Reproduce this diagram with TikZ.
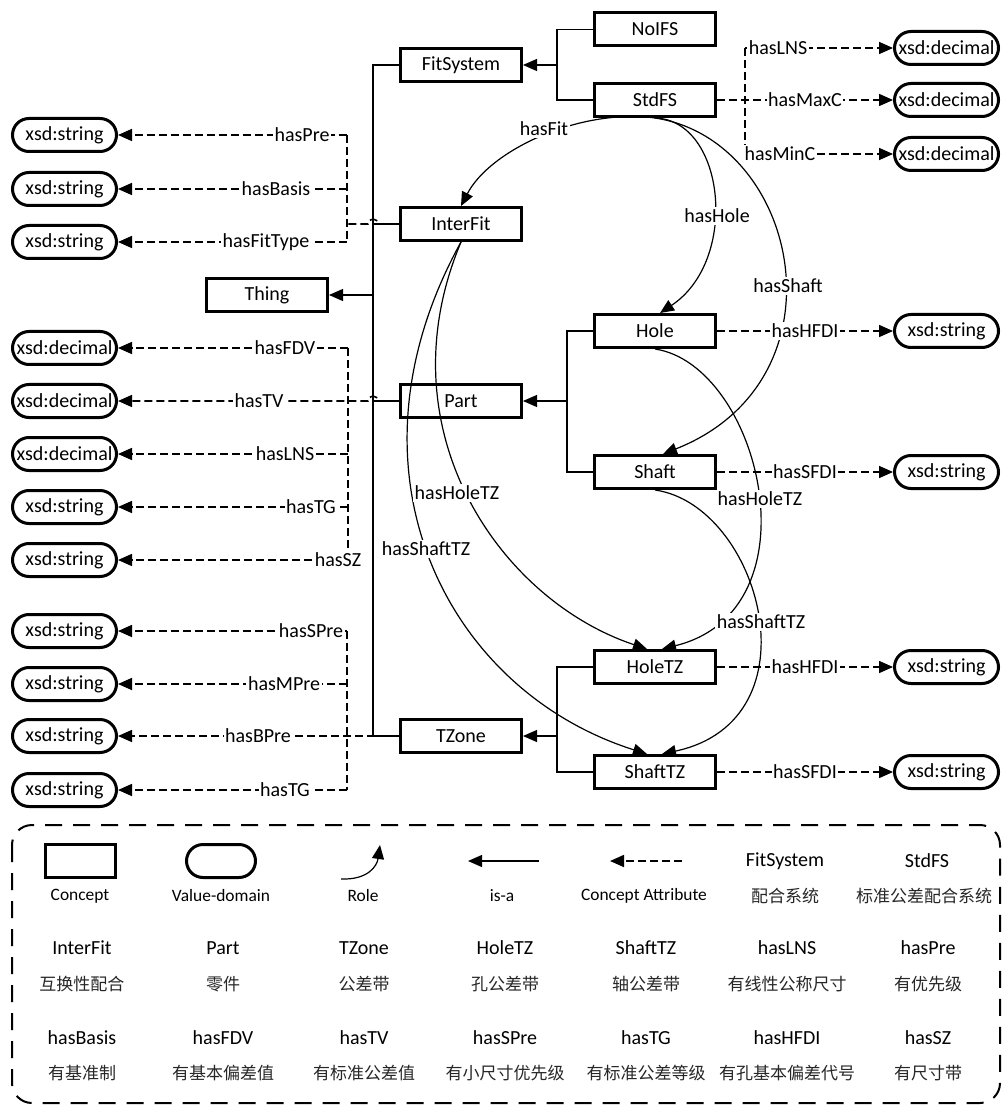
\documentclass[tikz,border=0pt]{standalone}
\usepackage{fontspec}
\setmainfont{Carlito}
\newfontfamily\cjk{Noto Sans CJK SC}
\usetikzlibrary{arrows.meta}

\begin{document}
\begin{tikzpicture}[x=0.5pt,y=-0.5pt,
  txt/.style={font=\fontsize{10}{12}\selectfont},
  small/.style={font=\fontsize{8.7}{10}\selectfont},
  concept/.style={txt,draw,line width=1.5pt,minimum width=60.5pt,minimum height=16.5pt,inner sep=0pt,fill=white},
  value/.style={txt,draw,line width=1.5pt,rounded corners=8.25pt,minimum width=52pt,minimum height=16.5pt,inner sep=0pt,fill=white},
  isa/.style={line width=0.6pt},
  role/.style={line width=0.6pt},
  attr/.style={line width=0.8pt,dash pattern=on 4pt off 2pt},
  tip/.style={-{Triangle[length=7pt,width=6pt]}},
  lab/.style={txt,fill=white,inner sep=0.8pt},
  cn/.style={font=\cjk\fontsize{8.5}{10}\selectfont,text=black!85},
  legframe/.style={line width=1pt,dash pattern=on 8.5pt off 5.5pt,rounded corners=10pt}]
\useasboundingbox (0,0) rectangle (1001,1106);

% ---------------- concepts ----------------
\node[concept] (NoIFS)     at (655,29.5) {NoIFS};
\node[concept] (StdFS)     at (655,100)  {StdFS};
\node[concept] (FitSystem) at (461,65)   {FitSystem};
\node[concept] (InterFit)  at (461,224)  {InterFit};
\node[concept] (Thing)     at (267,295)  {Thing};
\node[concept] (Part)      at (461,401)  {Part};
\node[concept] (Hole)      at (655,331)  {Hole};
\node[concept] (Shaft)     at (655,472)  {Shaft};
\node[concept] (TZone)     at (461,736)  {TZone};
\node[concept] (HoleTZ)    at (655,667)  {HoleTZ};
\node[concept] (ShaftTZ)   at (655,772)  {ShaftTZ};

% ---------------- value domains ----------------
\node[value] (vPre)     at (64.5,135) {xsd:string};
\node[value] (vBasis)   at (64.5,189) {xsd:string};
\node[value] (vFitType) at (64.5,242) {xsd:string};
\node[value] (vFDV)     at (64.5,348) {xsd:decimal};
\node[value] (vTV)      at (64.5,401) {xsd:decimal};
\node[value] (vLNS)     at (64.5,454) {xsd:decimal};
\node[value] (vTGa)     at (64.5,507) {xsd:string};
\node[value] (vSZ)      at (64.5,560) {xsd:string};
\node[value] (vSPre)    at (64.5,631) {xsd:string};
\node[value] (vMPre)    at (64.5,684) {xsd:string};
\node[value] (vBPre)    at (64.5,736) {xsd:string};
\node[value] (vTGb)     at (64.5,790) {xsd:string};
\node[value] (vLNSr)    at (946.5,48)  {xsd:decimal};
\node[value] (vMaxC)    at (946.5,100) {xsd:decimal};
\node[value] (vMinC)    at (946.5,154) {xsd:decimal};
\node[value] (vHFDI)    at (946.5,331) {xsd:string};
\node[value] (vSFDI)    at (946.5,472) {xsd:string};
\node[value] (vHFDItz)  at (946.5,667) {xsd:string};
\node[value] (vSFDItz)  at (946.5,772) {xsd:string};

% ---------------- is-a ----------------
\coordinate (trTop) at (373,65);
\coordinate (trBot) at (373,736);
\coordinate (trThing) at (373,295);
\draw[isa] (FitSystem.west) -- (trTop) -- (trBot) -- (TZone.west);
\draw[isa] (InterFit.west) -- (InterFit.west -| trTop);
\draw[isa] (Part.west) -- (Part.west -| trTop);
\draw[isa,tip] (trThing) -- (Thing.east);

\coordinate (fsBus) at (557,65);
\draw[isa] (NoIFS.west) -- (NoIFS.west -| fsBus) -- (StdFS.west -| fsBus) -- (StdFS.west);
\draw[isa,tip] (fsBus) -- (FitSystem.east);

\coordinate (ptBus) at (567,401);
\draw[isa] (Hole.west) -- (Hole.west -| ptBus) -- (Shaft.west -| ptBus) -- (Shaft.west);
\draw[isa,tip] (ptBus) -- (Part.east);

\coordinate (tzBus) at (557,736);
\draw[isa] (HoleTZ.west) -- (HoleTZ.west -| tzBus) -- (ShaftTZ.west -| tzBus) -- (ShaftTZ.west);
\draw[isa,tip] (tzBus) -- (TZone.east);

% ---------------- concept attributes ----------------
% InterFit
\coordinate (bA0) at (347,224);
\coordinate (bA1) at (347,135);
\coordinate (bA2) at (347,189);
\coordinate (bA3) at (347,242);
\draw[attr] (InterFit.west) -- (378,224) arc[start angle=0,end angle=180,radius=2.5pt] -- (bA0);
\draw[attr] (bA1) -- (bA3);
\draw[attr,tip] (bA1) -- (vPre.east);
\draw[attr,tip] (bA2) -- (vBasis.east);
\draw[attr,tip] (bA3) -- (vFitType.east);

% Part
\coordinate (bB1) at (348,348);
\coordinate (bB3) at (348,454);
\coordinate (bB4) at (348,507);
\coordinate (bB5) at (348,560);
\draw[attr,tip] (Part.west) -- (378,401) arc[start angle=0,end angle=180,radius=2.5pt] -- (vTV.east);
\draw[attr] (bB1) -- (bB5);
\draw[attr,tip] (bB1) -- (vFDV.east);
\draw[attr,tip] (bB3) -- (vLNS.east);
\draw[attr,tip] (bB4) -- (vTGa.east);
\draw[attr,tip] (bB5) -- (vSZ.east);

% TZone
\coordinate (bC1) at (347,631);
\coordinate (bC2) at (347,684);
\coordinate (bC4) at (347,790);
\draw[attr,tip] (TZone.west) -- (vBPre.east);
\draw[attr] (bC1) -- (bC4);
\draw[attr,tip] (bC1) -- (vSPre.east);
\draw[attr,tip] (bC2) -- (vMPre.east);
\draw[attr,tip] (bC4) -- (vTGb.east);

% StdFS
\coordinate (bD1) at (745,48);
\coordinate (bD3) at (745,154);
\draw[attr,tip] (StdFS.east) -- (vMaxC.west);
\draw[attr] (bD1) -- (bD3);
\draw[attr,tip] (bD1) -- (vLNSr.west);
\draw[attr,tip] (bD3) -- (vMinC.west);

% Hole, Shaft, HoleTZ, ShaftTZ
\draw[attr,tip] (Hole.east) -- (vHFDI.west);
\draw[attr,tip] (Shaft.east) -- (vSFDI.west);
\draw[attr,tip] (HoleTZ.east) -- (vHFDItz.west);
\draw[attr,tip] (ShaftTZ.east) -- (vSFDItz.west);

% ---------------- roles ----------------
\draw[role,tip] (StdFS.south) .. controls (580,108) and (490,150) .. (InterFit.north);
\draw[role,tip] (StdFS.south) .. controls (725,120) and (740,260) .. ([xshift=2.5pt]Hole.north);
\draw[role,tip] (StdFS.south) .. controls (800,140) and (850,380) .. ([xshift=4pt]Shaft.north);
\draw[role,tip] (Hole.south) .. controls (760,365) and (820,610) .. ([xshift=3.5pt]HoleTZ.north);
\draw[role,tip] (Shaft.south) .. controls (760,505) and (820,720) .. ([xshift=3.5pt]ShaftTZ.north);
\draw[role,tip] (InterFit.south) .. controls (382,430) and (500,600) .. ([xshift=-4pt]HoleTZ.north);
\draw[role,tip] (InterFit.south) .. controls (335,470) and (445,690) .. ([xshift=-4pt]ShaftTZ.north);

% ---------------- labels ----------------
\node[lab] (lPre)     at (302,135) {hasPre};
\node[lab] (lBasis)   at (276,189) {hasBasis};
\node[lab] (lFitType) at (266,242) {hasFitType};
\node[lab] (lFDV)     at (285,348) {hasFDV};
\node[lab] (lTV)      at (259,401) {hasTV};
\node[lab] (lLNS)     at (285,454) {hasLNS};
\node[lab] (lTGa)     at (311,507) {hasTG};
\node[lab] (lSZ)      at (338,560) {hasSZ};
\node[lab] (lSPre)    at (311,631) {hasSPre};
\node[lab] (lMPre)    at (284,684) {hasMPre};
\node[lab] (lBPre)    at (258,736) {hasBPre};
\node[lab] (lTGb)     at (285,790) {hasTG};
\node[lab] (lLNSr)    at (778,48)  {hasLNS};
\node[lab] (lMaxC)    at (805,100) {hasMaxC};
\node[lab] (lMinC)    at (780,154) {hasMinC};
\node[lab] (lHFDI)    at (805,331) {hasHFDI};
\node[lab] (lSFDI)    at (805,472) {hasSFDI};
\node[lab] (lHFDItz)  at (805,667) {hasHFDI};
\node[lab] (lSFDItz)  at (805,772) {hasSFDI};
\node[lab] (lFit)     at (544,129) {hasFit};
\node[lab] (lHole)    at (717,216) {hasHole};
\node[lab] (lShaft)   at (788,286) {hasShaft};
\node[lab] (lHoleTZr) at (760,499) {hasHoleTZ};
\node[lab] (lShaftTZr) at (761,622) {hasShaftTZ};
\node[lab] (lHoleTZl) at (457,493) {hasHoleTZ};
\node[lab] (lShaftTZl) at (426,549) {hasShaftTZ};

% ---------------- legend ----------------
\draw[legframe] (12,825) rectangle (1000,1103);

\node[draw,line width=1.5pt,minimum width=35pt,minimum height=16.5pt,inner sep=0pt] (legC) at (80,861) {};
\node[draw,line width=1.5pt,rounded corners=8.25pt,minimum width=34.5pt,minimum height=16.5pt,inner sep=0pt] (legV) at (221,861) {};
\coordinate (legRa) at (341,879);
\coordinate (legRb) at (380,845);
\draw[role,tip] (legRa) .. controls (368,880) and (377,866) .. (legRb);
\coordinate (legIa) at (539,861);
\coordinate (legIb) at (468,861);
\draw[isa,tip] (legIa) -- (legIb);
\coordinate (legAa) at (682,861);
\coordinate (legAb) at (610,861);
\draw[attr,tip] (legAa) -- (legAb);

\node[small] (t11) at (80,896)  {Concept};
\node[small] (t12) at (221,896) {Value-domain};
\node[small] (t13) at (363,896) {Role};
\node[small] (t14) at (502,896) {is-a};
\node[small] (t15) at (644,896) {Concept Attribute};
\node[txt] (t16) at (785,861) {FitSystem};
\node[cn]  (c16) at (785,896) {配合系统};
\node[txt] (t17) at (927,861) {StdFS};
\node[cn]  (c17) at (924,896) {标准公差配合系统};

\node[txt] (t21) at (82,948)  {InterFit};
\node[cn]  (c21) at (82,984)  {互换性配合};
\node[txt] (t22) at (223,948) {Part};
\node[cn]  (c22) at (223,984) {零件};
\node[txt] (t23) at (364,948) {TZone};
\node[cn]  (c23) at (364,984) {公差带};
\node[txt] (t24) at (505,948) {HoleTZ};
\node[cn]  (c24) at (505,984) {孔公差带};
\node[txt] (t25) at (646,948) {ShaftTZ};
\node[cn]  (c25) at (646,984) {轴公差带};
\node[txt] (t26) at (787,948) {hasLNS};
\node[cn]  (c26) at (787,984) {有线性公称尺寸};
\node[txt] (t27) at (928,948) {hasPre};
\node[cn]  (c27) at (928,984) {有优先级};

\node[txt] (t31) at (82,1038)  {hasBasis};
\node[cn]  (c31) at (82,1073)  {有基准制};
\node[txt] (t32) at (223,1038) {hasFDV};
\node[cn]  (c32) at (223,1073) {有基本偏差值};
\node[txt] (t33) at (364,1038) {hasTV};
\node[cn]  (c33) at (364,1073) {有标准公差值};
\node[txt] (t34) at (505,1038) {hasSPre};
\node[cn]  (c34) at (505,1073) {有小尺寸优先级};
\node[txt] (t35) at (646,1038) {hasTG};
\node[cn]  (c35) at (646,1073) {有标准公差等级};
\node[txt] (t36) at (787,1038) {hasHFDI};
\node[cn]  (c36) at (787,1073) {有孔基本偏差代号};
\node[txt] (t37) at (928,1038) {hasSZ};
\node[cn]  (c37) at (928,1073) {有尺寸带};
\end{tikzpicture}
\end{document}
